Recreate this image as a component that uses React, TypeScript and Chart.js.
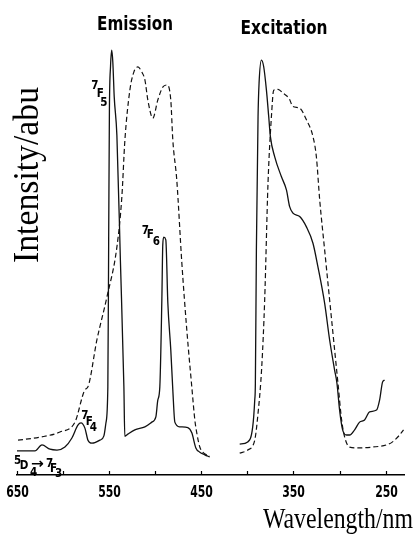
import React, { useEffect, useRef } from "react";
import { Chart, registerables } from "chart.js";

Chart.register(...registerables);

// ---- Data (wavelength in nm, intensity in arbitrary units 0-100) ----
const emissionSolidNm = [652.2, 630.5, 622.9, 614.2, 606.6, 598.0, 590.4, 583.9, 580.6, 576.3, 573.0, 568.7, 560.0, 555.7, 553.5, 551.4, 550.5, 549.7, 548.5, 547.2, 546.0, 544.5, 541.6, 537.8, 534.0, 533.0, 529.7, 522.1, 511.2, 503.7, 499.3, 497.2, 495.0, 492.8, 491.8, 490.7, 488.5, 486.3, 483.1, 480.9, 478.7, 473.3, 464.6, 460.3, 455.9, 451.6, 446.2, 440.8];
const emissionSolidI = [5.6, 5.6, 7.0, 6.0, 5.8, 6.5, 8.6, 11.6, 12.1, 10.9, 8.1, 7.4, 8.1, 9.1, 12.1, 20.5, 55, 85, 95, 98.8, 96, 88, 79, 50, 20.5, 9.0, 9.5, 10.5, 11.2, 12.3, 13.5, 17.4, 20.5, 40.7, 53.5, 55.3, 54.7, 40, 29.1, 19.8, 12.3, 11.2, 11.0, 9.8, 6.3, 5.3, 4.7, 4.2];

const emissionDashNm = [648.9, 625.1, 603.4, 587.1, 576.3, 573.0, 563.3, 552.4, 541.6, 536.2, 532.9, 527.5, 523.2, 518.8, 514.5, 511.2, 508.0, 502.6, 497.2, 491.8, 487.4, 483.1, 480.9, 476.6, 471.1, 465.7, 460.3, 457.0, 454.9, 451.6, 448.4, 440.8];
const emissionDashI = [8.1, 8.8, 10.0, 12.3, 19.8, 20.5, 31.4, 41.4, 53.0, 64.7, 77.9, 89.5, 93.7, 94.9, 93.7, 91.9, 87.2, 83.0, 87.2, 90.2, 90.7, 87.2, 77.9, 68.6, 49.3, 33.7, 20.5, 12.8, 9.8, 6.5, 5.3, 4.4];

const excitationSolidNm = [408.3, 399.6, 394.2, 392.0, 391.3, 390.2, 388.4, 387.3, 384.7, 382.3, 379.3, 376.8, 375.0, 370.3, 363.1, 357.6, 354.1, 350.5, 343.2, 335.9, 328.8, 323.4, 316.1, 310.7, 305.3, 302.8, 299.9, 296.6, 292.3, 289.0, 283.6, 278.2, 272.8, 267.3, 259.8, 256.5, 253.3, 251.1];
const excitationSolidI = [7.2, 7.7, 11.2, 17.4, 21.4, 52.3, 83.3, 91.1, 96.5, 95.0, 89.5, 83.3, 78.7, 74.0, 69.4, 66.3, 62.4, 60.9, 60.1, 57.7, 53.9, 48.4, 39.9, 31.4, 24.4, 21.4, 15.1, 10.5, 9.3, 9.3, 10.5, 12.3, 12.8, 14.7, 15.1, 17.4, 21.6, 22.1];

const excitationDashNm = [408.3, 399.6, 392.0, 388.8, 384.4, 381.2, 377.6, 373.9, 371.4, 366.7, 361.3, 354.8, 350.5, 343.2, 335.9, 328.8, 325.1, 321.5, 316.1, 310.7, 305.3, 301.7, 297.7, 294.4, 289.0, 278.2, 264.1, 248.9, 242.4, 234.8, 230.5];
const excitationDashI = [5.1, 5.8, 8.1, 13.5, 25.1, 40.7, 67.8, 83.3, 89.5, 89.7, 88.8, 87.6, 85.7, 85.3, 82.6, 78.7, 74.0, 64.0, 52.3, 40.7, 29.1, 21.4, 12.8, 8.8, 6.5, 6.3, 6.5, 7.0, 7.7, 9.3, 10.5];

const xTickValues = [650, 600, 550, 500, 450, 400, 350, 300, 250];
const xLabelValues = [650, 550, 450, 350, 250];

const panelTitles = ["Emission", "Excitation"];
const xAxisTitle = "Wavelength/nm";
const yAxisTitle = "Intensity/abu";

const toPoints = (xs: number[], ys: number[]) => xs.map((x, i) => ({ x, y: ys[i] }));

const BOLD_SANS = "'DejaVu Sans', 'Liberation Sans', sans-serif";
const SERIF = "'Liberation Serif', 'DejaVu Serif', 'Times New Roman', serif";

function drawFitted(ctx: CanvasRenderingContext2D, text: string, font: string, x: number, y: number, width: number, angle: number, baseline: CanvasTextBaseline) {
  ctx.save();
  ctx.font = font;
  const w = ctx.measureText(text).width;
  ctx.translate(x, y);
  ctx.rotate(angle);
  ctx.scale(width / w, 1);
  ctx.textAlign = "center";
  ctx.textBaseline = baseline;
  ctx.fillStyle = "#000";
  ctx.fillText(text, 0, 0);
  ctx.restore();
}

function drawCondensed(ctx: CanvasRenderingContext2D, text: string, font: string, x: number, y: number, sx: number) {
  ctx.save();
  ctx.font = font;
  ctx.translate(x, y);
  ctx.scale(sx, 1);
  ctx.textAlign = "center";
  ctx.textBaseline = "middle";
  ctx.fillStyle = "#000";
  ctx.fillText(text, 0, 0);
  ctx.restore();
}

// term-symbol annotations: anchor in data coords, glyph offsets in px
type Glyph = [string, number, number];
const annotations: { nm: number; v: number; glyphs: Glyph[] }[] = [
  { nm: 559.5, v: 88.6, glyphs: [["7", -5.5, -8], ["F", 0, 0], ["5", 3.5, 8.5]] },
  { nm: 505.3, v: 55.8, glyphs: [["7", -5, -4.5], ["F", 0, 0], ["6", 6, 7]] },
  { nm: 571.4, v: 12.4, glyphs: [["7", -4.5, -6.5], ["F", 0, 0], ["4", 4, 6]] },
  { nm: 642.4, v: 2.1, glyphs: [["5", -6.5, -5.5], ["D", 0, 0], ["4", 9.5, 6.5], ["→", 13.5, -1.5], ["7", 25.5, -2], ["F", 29.5, 2.5], ["3", 34.5, 7.5]] },
];

const overlayPlugin = {
  id: "overlay",
  afterDraw(chart: any) {
    const ctx: CanvasRenderingContext2D = chart.ctx;
    const xs = chart.scales.x;
    const ys = chart.scales.y;
    ctx.save();
    // upward tick marks on the axis line + tick labels
    ctx.strokeStyle = "#000";
    ctx.lineWidth = 1.2;
    xs.ticks.forEach((t: any, i: number) => {
      const px = Math.round(xs.getPixelForTick(i)) + 0.5;
      ctx.beginPath();
      ctx.moveTo(px, xs.top);
      ctx.lineTo(px, xs.top - 4);
      ctx.stroke();
      if (xLabelValues.includes(t.value)) {
        drawCondensed(ctx, String(t.value), `bold 16px ${BOLD_SANS}`, px, xs.top + 18, 0.68);
      }
    });
    // panel titles
    drawFitted(ctx, panelTitles[0], `bold 20px ${BOLD_SANS}`, 135, 24.5, 76, 0, "middle");
    drawFitted(ctx, panelTitles[1], `bold 20px ${BOLD_SANS}`, 284, 28.5, 87, 0, "middle");
    // axis titles
    drawFitted(ctx, xAxisTitle, `30px ${SERIF}`, 338, 528, 150, 0, "alphabetic");
    drawFitted(ctx, yAxisTitle, `35px ${SERIF}`, 37.5, 175, 176, -Math.PI / 2, "alphabetic");
    // annotations
    annotations.forEach((a) => {
      const ax = xs.getPixelForValue(a.nm);
      const ay = ys.getPixelForValue(a.v);
      a.glyphs.forEach(([t, dx, dy]) => {
        if (t === "→") {
          drawCondensed(ctx, t, `bold 14px ${BOLD_SANS}`, ax + dx, ay + dy, 1.1);
        } else {
          drawCondensed(ctx, t, `bold 13px ${BOLD_SANS}`, ax + dx, ay + dy, 0.8);
        }
      });
    });
    ctx.restore();
  },
};

export default function App() {
  const canvasRef = useRef<HTMLCanvasElement | null>(null);

  useEffect(() => {
    if (!canvasRef.current) return;
    const solid = { borderColor: "#111", borderWidth: 1.3, pointRadius: 0, fill: false, cubicInterpolationMode: "monotone" as const };
    const dashed = { ...solid, borderWidth: 1.2, borderDash: [5, 3] };
    const chart = new Chart(canvasRef.current, {
      type: "line",
      data: {
        datasets: [
          { label: "Emission", data: toPoints(emissionSolidNm, emissionSolidI), ...solid },
          { label: "Emission (dashed)", data: toPoints(emissionDashNm, emissionDashI), ...dashed },
          { label: "Excitation", data: toPoints(excitationSolidNm, excitationSolidI), ...solid },
          { label: "Excitation (dashed)", data: toPoints(excitationDashNm, excitationDashI), ...dashed },
        ] as any,
      },
      options: {
        animation: false,
        responsive: false,
        maintainAspectRatio: false,
        layout: { padding: { left: 17, right: 11, top: 45, bottom: 57 } },
        plugins: { legend: { display: false }, tooltip: { enabled: false }, title: { display: false } },
        scales: {
          x: {
            type: "linear",
            reverse: true,
            min: 230,
            max: 650,
            afterBuildTicks: (scale: any) => {
              scale.ticks = xTickValues.map((v) => ({ value: v }));
            },
            grid: { display: false },
            border: { display: true, color: "#000", width: 1.5 },
            ticks: { display: false },
          },
          y: { display: false, min: 0, max: 100 },
        },
      } as any,
      plugins: [overlayPlugin],
    });
    return () => chart.destroy();
  }, []);

  return (
    <div style={{ position: "fixed", left: 0, top: 0, width: 415, height: 540, background: "#fff" }}>
      <canvas ref={canvasRef} width={415} height={540} style={{ width: 415, height: 540, display: "block" }} />
    </div>
  );
}
